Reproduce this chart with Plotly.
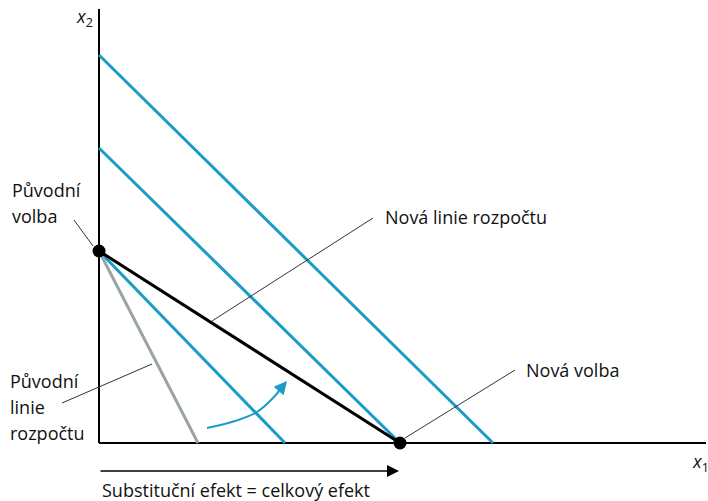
import plotly.graph_objects as go

# ---- data (chart units) ----
axis_x_max = 60.7
axis_y_max = 43.4

orig_choice = (0.0, 19.2)
new_choice = (30.1, 0.0)

orig_budget_x = [0.0, 9.9]
orig_budget_y = [19.2, 0.0]

new_budget_x = [0.0, 30.1]
new_budget_y = [19.2, 0.0]

indiff_y_int = [19.2, 29.5, 38.8]
indiff_x_int = [18.6, 30.1, 39.4]

curve_x = [10.8, 13.6, 15.8, 17.3, 18.1]
curve_y = [1.5, 2.2, 3.1, 4.4, 5.3]
curve_tip = (18.8, 6.2)

effect_start = 0.0
effect_end = 30.0
effect_y = -2.8

BLUE = "#1a9cc6"
GRAY = "#9aa3a6"
FONT = "Open Sans"
FS = 18

fig = go.Figure()

# axes
fig.add_trace(go.Scatter(x=[0, axis_x_max], y=[0, 0], mode="lines",
                         line=dict(color="black", width=2), cliponaxis=False, hoverinfo="skip"))
fig.add_trace(go.Scatter(x=[0, 0], y=[0, axis_y_max], mode="lines",
                         line=dict(color="black", width=2), cliponaxis=False, hoverinfo="skip"))

# indifference lines
for yi, xi in zip(indiff_y_int, indiff_x_int):
    fig.add_trace(go.Scatter(x=[0, xi], y=[yi, 0], mode="lines",
                             line=dict(color=BLUE, width=3), cliponaxis=False, hoverinfo="skip"))

# original budget line
fig.add_trace(go.Scatter(x=orig_budget_x, y=orig_budget_y, mode="lines",
                         line=dict(color=GRAY, width=3), cliponaxis=False, hoverinfo="skip"))
# new budget line
fig.add_trace(go.Scatter(x=new_budget_x, y=new_budget_y, mode="lines",
                         line=dict(color="black", width=3), cliponaxis=False, hoverinfo="skip"))

# curved arrow
fig.add_trace(go.Scatter(x=curve_x, y=curve_y, mode="lines",
                         line=dict(color=BLUE, width=2, shape="spline"), cliponaxis=False, hoverinfo="skip"))

# choice points
fig.add_trace(go.Scatter(x=[orig_choice[0], new_choice[0]], y=[orig_choice[1], new_choice[1]],
                         mode="markers", marker=dict(color="black", size=13),
                         cliponaxis=False, hoverinfo="skip"))

leaders = [
    ((-2.5, 22.3), (-0.6, 19.7)),
    ((11.3, 12.2), (27.4, 22.5)),
    ((30.6, 0.5), (41.6, 7.3)),
    ((-3.7, 4.0), (5.3, 7.9)),
]
for (x0, y0), (x1, y1) in leaders:
    fig.add_trace(go.Scatter(x=[x0, x1], y=[y0, y1], mode="lines",
                             line=dict(color="#333333", width=1), cliponaxis=False, hoverinfo="skip"))

annotations = []

def label(text, x, y, anchor="left"):
    annotations.append(dict(x=x, y=y, text=text, showarrow=False, xanchor=anchor,
                            yanchor="middle", font=dict(family=FONT, size=FS, color="#111111")))

label("Původní", -8.9, 25.3)
label("volba", -8.9, 22.7)
label("Nová linie rozpočtu", 28.4, 22.6)
label("Nová volba", 42.5, 7.3)
label("Původní", -9.1, 6.2)
label("linie", -9.1, 3.6)
label("rozpočtu", -9.1, 1.0)
label("Substituční efekt = celkový efekt", 0.1, -4.65)
label("<i>x</i><sub>2</sub>", -0.4, 42.6, anchor="right")
label("<i>x</i><sub>1</sub>", 59.1, -1.9)

# arrowheads
annotations.append(dict(x=curve_tip[0], y=curve_tip[1], ax=curve_x[-1] - 0.3, ay=curve_y[-1] - 0.3,
                        axref="x", ayref="y", xref="x", yref="y", text="", showarrow=True,
                        arrowhead=2, arrowsize=1.3, arrowwidth=2, arrowcolor=BLUE))
annotations.append(dict(x=effect_end, y=effect_y, ax=effect_start, ay=effect_y,
                        axref="x", ayref="y", xref="x", yref="y", text="", showarrow=True,
                        arrowhead=2, arrowsize=1.6, arrowwidth=1.5, arrowcolor="black"))

fig.update_layout(
    width=708, height=501,
    margin=dict(l=0, r=0, t=0, b=0),
    paper_bgcolor="white", plot_bgcolor="white",
    showlegend=False,
    xaxis=dict(range=[-9.9, 60.9], visible=False, fixedrange=True),
    yaxis=dict(range=[-5.8, 44.3], visible=False, fixedrange=True),
    annotations=annotations,
)

fig.write_html("out.html", config={"displayModeBar": False},
               post_script="document.body.style.margin='0';")
